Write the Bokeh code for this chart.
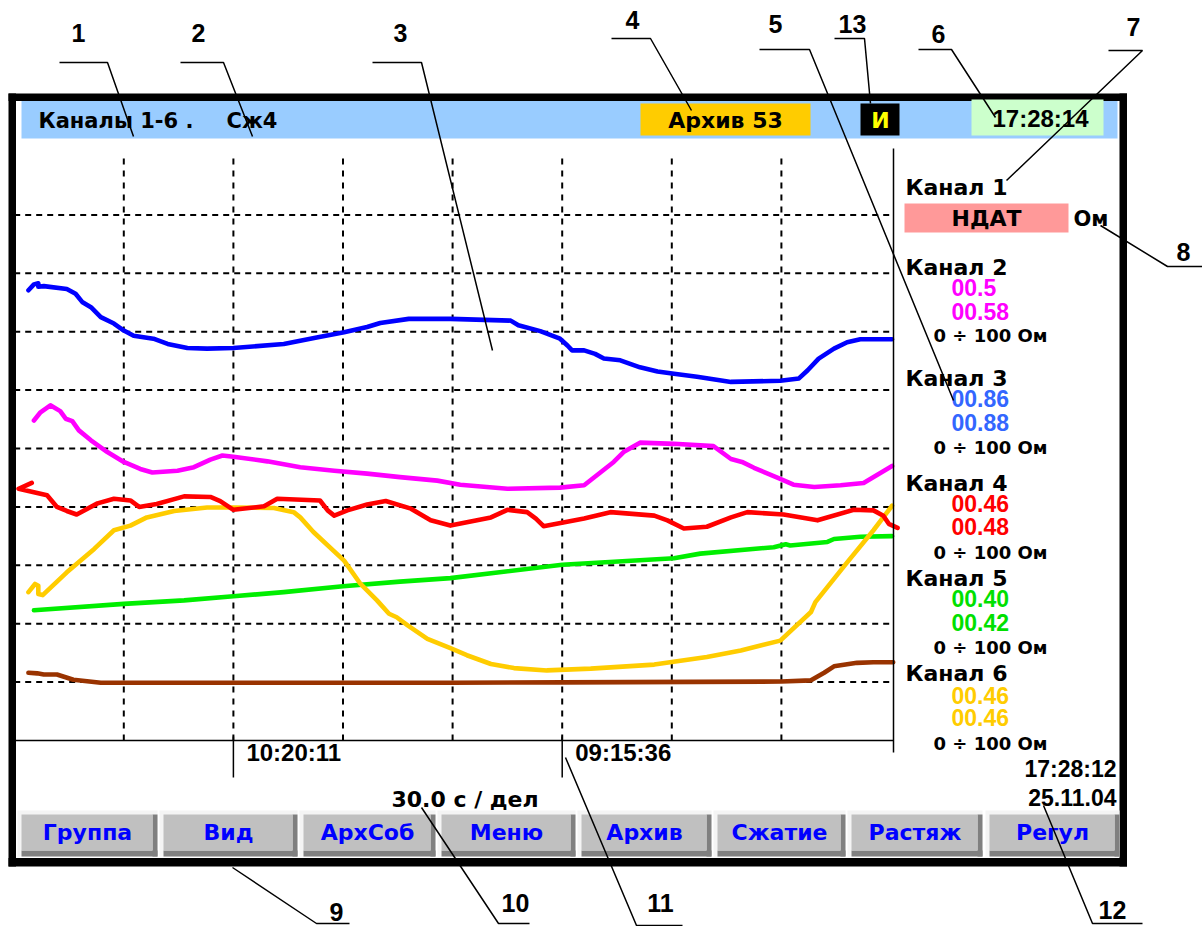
from bokeh.plotting import figure
from bokeh.models import Range1d
from bokeh.core.properties import value
from bokeh.embed import file_html
from bokeh.resources import INLINE

# ---------------- data (time in divisions of 30 s, value in % of 0..100 Ом) -------------
blue_t = [0.13, 0.18, 0.22, 0.22, 0.27, 0.48, 0.56, 0.62, 0.70, 0.79, 0.91, 1.00, 1.09, 1.27, 1.40,
          1.58, 1.76, 2.00, 2.46, 2.76, 3.01, 3.22, 3.34, 3.60, 3.98, 4.53, 4.60, 4.80, 4.98, 5.05,
          5.09, 5.20, 5.30, 5.38, 5.53, 5.71, 5.87, 6.02, 6.23, 6.54, 6.99, 7.16, 7.24, 7.34, 7.48,
          7.60, 7.72, 8.01]
blue_v = [77.1, 78.1, 78.3, 77.7, 77.8, 77.3, 76.5, 75.1, 74.2, 72.5, 71.4, 70.2, 69.3, 68.8, 67.9,
          67.2, 67.1, 67.2, 67.9, 69.0, 69.9, 70.8, 71.5, 72.2, 72.2, 71.9, 71.1, 70.1, 68.8, 67.6,
          66.8, 66.8, 66.2, 65.4, 65.1, 63.9, 63.2, 62.8, 62.3, 61.4, 61.6, 62.0, 63.4, 65.4, 67.1,
          68.2, 68.7, 68.7]

magenta_t = [0.18, 0.24, 0.33, 0.42, 0.47, 0.53, 0.59, 0.70, 0.85, 1.00, 1.15, 1.26, 1.49, 1.64,
             1.79, 1.90, 2.00, 2.31, 2.61, 2.92, 3.22, 3.52, 3.86, 4.07, 4.50, 4.98, 5.20, 5.47,
             5.56, 5.71, 6.02, 6.38, 6.54, 6.64, 6.75, 6.99, 7.11, 7.30, 7.54, 7.75, 8.01]
magenta_v = [54.8, 56.2, 57.4, 56.4, 55.1, 54.7, 53.1, 51.4, 49.4, 47.7, 46.5, 45.9, 46.2, 46.8,
             48.1, 48.8, 48.6, 47.8, 46.8, 46.2, 45.7, 45.1, 44.5, 43.8, 43.1, 43.3, 43.7, 47.7,
             49.4, 51.0, 50.8, 50.4, 48.2, 47.7, 46.7, 44.8, 43.8, 43.4, 43.7, 44.1, 47.0]

red_t = [0.16, 0.04, 0.18, 0.30, 0.39, 0.48, 0.57, 0.76, 0.91, 1.06, 1.14, 1.30, 1.55, 1.79, 1.88,
         2.00, 2.28, 2.40, 2.79, 2.86, 2.92, 3.04, 3.22, 3.39, 3.62, 3.80, 3.98, 4.35, 4.50, 4.68,
         4.76, 4.83, 5.20, 5.44, 5.84, 5.96, 6.11, 6.32, 6.54, 6.69, 7.02, 7.33, 7.66, 7.84, 7.93,
         7.98, 8.06]
red_v = [44.1, 43.1, 42.5, 42.0, 40.0, 39.3, 38.7, 40.6, 41.4, 41.1, 40.0, 40.5, 41.8, 41.7, 41.0,
         39.5, 40.1, 41.4, 41.1, 39.4, 38.5, 39.4, 40.4, 41.0, 39.7, 37.7, 36.8, 38.2, 39.5, 39.1,
         38.0, 36.7, 38.0, 39.1, 38.5, 37.7, 36.3, 36.6, 38.2, 39.1, 38.7, 37.7, 39.5, 39.4, 38.5,
         37.1, 36.4]

gold_t = [0.13, 0.19, 0.22, 0.22, 0.26, 0.48, 0.73, 0.91, 1.06, 1.21, 1.46, 1.76, 2.00, 2.37, 2.55,
          2.61, 2.73, 3.01, 3.16, 3.31, 3.42, 3.49, 3.59, 3.77, 3.98, 4.13, 4.35, 4.56, 4.86, 5.26,
          5.84, 6.32, 6.63, 6.99, 7.27, 7.31, 7.60, 7.84, 8.01]
gold_v = [25.4, 26.8, 26.5, 25.1, 24.9, 28.8, 32.8, 36.0, 36.8, 38.2, 39.3, 39.9, 39.9, 39.8, 39.1,
          38.2, 35.7, 30.8, 26.8, 24.0, 21.7, 21.1, 19.7, 17.4, 15.8, 14.6, 13.1, 12.4, 12.0, 12.3,
          13.0, 14.3, 15.4, 17.1, 22.0, 23.7, 30.5, 36.0, 40.2]

green_t = [0.18, 1.00, 1.55, 2.00, 2.46, 3.00, 3.52, 3.98, 5.00, 6.02, 6.26, 6.93, 7.04, 7.08, 7.42,
           7.48, 7.72, 8.01]
green_v = [22.3, 23.4, 24.0, 24.7, 25.4, 26.4, 27.2, 27.8, 30.1, 31.2, 32.0, 33.1, 33.6, 33.4, 34.0,
           34.5, 34.9, 35.0]

brown_t = [0.13, 0.21, 0.27, 0.39, 0.54, 0.79, 2.00, 3.98, 5.00, 7.00, 7.27, 7.39, 7.48, 7.69, 7.84,
           8.02]
brown_v = [11.6, 11.5, 11.3, 11.3, 10.4, 9.9, 9.9, 9.9, 9.95, 10.1, 10.3, 11.6, 12.7, 13.3, 13.4,
           13.4]

channel_names = ["Канал 1", "Канал 2", "Канал 3", "Канал 4", "Канал 5", "Канал 6"]
channel_val1 = ["НДАТ", "00.5", "00.86", "00.46", "00.40", "00.46"]
channel_val2 = ["", "00.58", "00.88", "00.48", "00.42", "00.46"]
channel_range = ["", "0 ÷ 100 Ом", "0 ÷ 100 Ом", "0 ÷ 100 Ом", "0 ÷ 100 Ом", "0 ÷ 100 Ом"]
channel_colors = ["#000000", "#FF00FF", "#3366FF", "#FF0000", "#00E000", "#FFCC00"]

time_ticks = [2, 5]
time_labels = ["10:20:11", "09:15:36"]
scale_label = "30.0 с / дел"
buttons = ["Группа", "Вид", "АрхСоб", "Меню", "Архив", "Сжатие", "Растяж", "Регул"]
header_title = "Каналы 1-6 ."
header_mode = "Сж4"
archive_label = "Архив 53"
flag_label = "И"
clock_label = "17:28:14"
last_time = "17:28:12"
last_date = "25.11.04"
callouts = ["1", "2", "3", "4", "5", "13", "6", "7", "8", "9", "10", "11", "12"]

# ---------------- layout constants (page pixels) ----------------
FIG_W, FIG_H, OFF = 1202, 926, 0
PX0, DIVPX = 13.7, 109.6        # x pixel of division 0, pixels per division
PY0, PCTPX = 740.0, 5.84        # y pixel of 0 %, pixels per %

DV = value("DejaVu Sans")
LB = value("Liberation Sans")

p = figure(width=FIG_W, height=FIG_H,
           x_range=Range1d(OFF, OFF + FIG_W), y_range=Range1d(OFF + FIG_H, OFF),
           min_border=0, min_border_left=0, min_border_right=0, min_border_top=0, min_border_bottom=0,
           toolbar_location=None, output_backend="svg",
           x_axis_location=None, y_axis_location=None,
           outline_line_color=None, background_fill_color="white", border_fill_color="white")
p.grid.visible = False
p.extra_x_ranges = {"t": Range1d((OFF - PX0) / DIVPX, (OFF + FIG_W - PX0) / DIVPX)}
p.extra_y_ranges = {"v": Range1d((PY0 - (OFF + FIG_H)) / PCTPX, (PY0 - OFF) / PCTPX)}
D = dict(x_range_name="t", y_range_name="v")


def txt(x, y, s, size, color="#000000", align="left", font=DV, **kw):
    p.text(x=[x], y=[y], text=[s], text_font=font, text_font_style="bold",
           text_font_size=f"{size}px", text_color=color, text_align=align,
           text_baseline="middle", **kw)


# ---- grid ----
vx = [1, 2, 3, 4, 5, 6, 7]
p.segment(x0=vx, y0=[0] * 7, x1=vx, y1=[100] * 7, line_color="black", line_width=2,
          line_dash="6 6", **D)
hy = [10, 20, 30, 40, 50, 60, 70, 80, 90]
p.segment(x0=[0] * 9, y0=hy, x1=[8] * 9, y1=hy, line_color="black", line_width=2,
          line_dash="6 5", **D)
p.segment(x0=[0], y0=[0], x1=[8.02], y1=[0], line_color="black", line_width=1.5, **D)

# ---- curves ----
for t, v, c in [(brown_t, brown_v, "#993300"), (green_t, green_v, "#00EE00"),
                (gold_t, gold_v, "#FFCC00"), (red_t, red_v, "#FF0000"),
                (magenta_t, magenta_v, "#FF00FF"), (blue_t, blue_v, "#0000FF")]:
    p.line(t, v, line_color=c, line_width=4.6, line_join="round", line_cap="round", **D)

# ---- time ticks & labels ----
p.segment(x0=time_ticks, y0=[736] * 2, x1=time_ticks, y1=[777] * 2, line_color="black",
          line_width=1.5, x_range_name="t")
p.text(x=time_ticks, y=[752] * 2, text=time_labels, x_offset=13, text_font=LB,
       text_font_style="bold", text_font_size="24px", text_color="black",
       text_baseline="middle", x_range_name="t")
txt(391, 799, scale_label, 22)

# right panel separator
p.segment(x0=[893], y0=[148], x1=[893], y1=[752], line_color="black", line_width=1.5)

# ---- outer frame ----
p.quad(left=[8, 1119, 8, 8], right=[15.5, 1126.5, 1126.5, 1126.5],
       top=[93, 93, 93, 857.5], bottom=[866, 866, 100.5, 866], fill_color="black", line_color=None)

# ---- header ----
p.quad(left=[21], right=[1117], top=[100.5], bottom=[138], fill_color="#99CCFF", line_color=None)
p.quad(left=[640], right=[810], top=[103], bottom=[135], fill_color="#FFCC00", line_color=None)
p.quad(left=[860], right=[899], top=[103], bottom=[135], fill_color="black", line_color=None)
p.quad(left=[971], right=[1103], top=[99], bottom=[135], fill_color="#CCFFCC", line_color=None)
txt(38, 120, header_title, 21)
txt(226, 120, header_mode, 21)
txt(725, 120, archive_label, 22, align="center")
txt(880, 120, flag_label, 22, color="#FFFF00", align="center")
txt(1040, 118, clock_label, 24, align="center", font=LB)

# ---- channel panel ----
title_y = [187, 267, 378, 483, 578, 673]
v1_y = [218, 287, 398, 503, 598, 695]
v2_y = [0, 311, 422, 526, 622, 717]
rng_y = [0, 335, 447, 552, 647, 743]
p.quad(left=[904], right=[1068], top=[203], bottom=[232], fill_color="#FF9999", line_color=None)
for i, name in enumerate(channel_names):
    txt(905, title_y[i], name, 22)
    if i == 0:
        txt(986, v1_y[i], channel_val1[i], 22, align="center")
        txt(1073, v1_y[i], "Ом", 21)
        continue
    txt(951, v1_y[i], channel_val1[i], 23, color=channel_colors[i], font=LB)
    txt(951, v2_y[i], channel_val2[i], 23, color=channel_colors[i], font=LB)
    txt(933, rng_y[i], channel_range[i], 18)
txt(1116, 768, last_time, 23, align="right", font=LB)
txt(1116, 797, last_date, 23, align="right", font=LB)

# ---- buttons ----
b_left = [17, 159, 299, 437, 577, 713, 847, 985]
b_right = [157, 297, 435, 575, 711, 845, 982, 1119]
bt, bb = 810, 856
p.quad(left=b_left, right=b_right, top=[bt] * 8, bottom=[bb] * 8, fill_color="#F4F4F4", line_color=None)
p.quad(left=[l + 4 for l in b_left], right=b_right, top=[bb - 6] * 8, bottom=[bb] * 8,
       fill_color="#808080", line_color=None)
p.quad(left=[r - 5 for r in b_right], right=b_right, top=[bt + 4] * 8, bottom=[bb] * 8,
       fill_color="#808080", line_color=None)
p.quad(left=[l + 4 for l in b_left], right=[r - 5 for r in b_right], top=[bt + 4] * 8,
       bottom=[bb - 6] * 8, fill_color="#C0C0C0", line_color=None)
p.text(x=[(l + r) / 2 for l, r in zip(b_left, b_right)], y=[832] * 8, text=buttons,
       text_font=DV, text_font_style="bold", text_font_size="22px", text_color="#0000FF",
       text_align="center", text_baseline="middle")

# ---- callouts ----
c_pos = [(78, 32), (198, 32), (400, 32), (632, 19), (775, 23), (852, 23), (938, 33),
         (1133, 26), (1183, 251), (336, 911), (515, 902), (660, 902), (1112, 909)]
c_lines = [
    [(59, 62), (107, 62), (133, 136)],
    [(180, 62), (223, 62), (252, 136)],
    [(372, 62), (421, 62), (492, 350)],
    [(611, 38), (650, 38), (691, 110)],
    [(759, 49), (809, 49), (953, 400)],
    [(834, 38), (864, 38), (870, 103)],
    [(918, 49), (951, 49), (995, 117)],
    [(1108, 50), (1142, 50), (1006, 180)],
    [(1100, 225), (1167, 266), (1202, 266)],
    [(232, 867), (316, 923), (349, 923)],
    [(421, 807), (498, 923), (529, 923)],
    [(565, 757), (636, 925), (682, 925)],
    [(1043, 805), (1092, 923), (1142, 923)],
]
p.multi_line(xs=[[a for a, b in ln] for ln in c_lines], ys=[[b for a, b in ln] for ln in c_lines],
             line_color="black", line_width=1.5)
p.text(x=[a for a, b in c_pos], y=[b for a, b in c_pos], text=callouts, text_font=LB,
       text_font_style="bold", text_font_size="25px", text_color="black",
       text_align="center", text_baseline="middle")

open("out.html", "w").write(file_html(p, INLINE))
